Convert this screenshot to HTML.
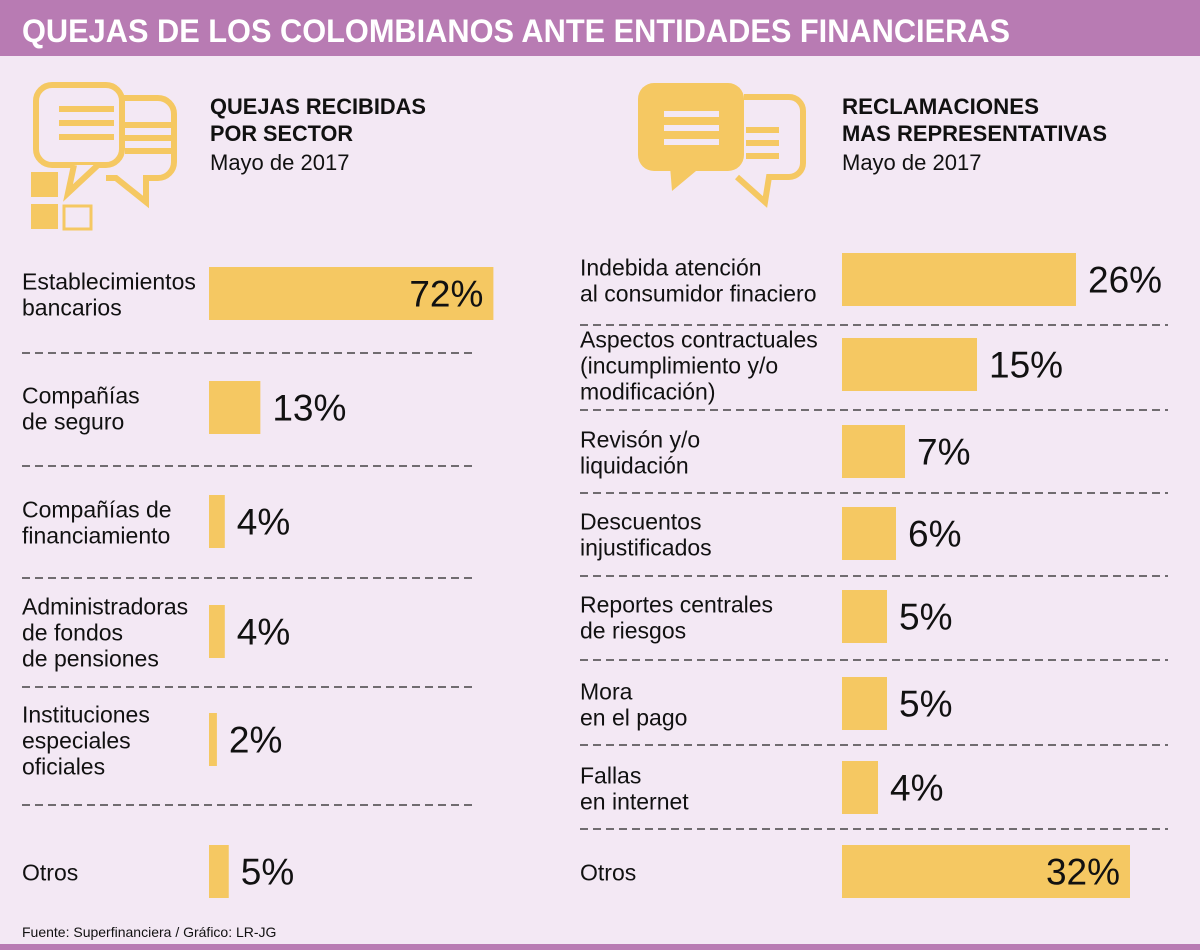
<!DOCTYPE html>
<html><head><meta charset="utf-8"><style>
html,body{margin:0;padding:0;background:#f3e8f4;}
svg{display:block;font-family:"Liberation Sans",sans-serif;}
</style></head><body>
<svg id="chart" width="1200" height="950" viewBox="0 0 1200 950" xmlns="http://www.w3.org/2000/svg">
<rect x="0" y="0" width="1200" height="950" fill="#f3e8f4"/>
<rect x="0" y="0" width="1200" height="56" fill="#b87bb3"/>
<text x="22" y="42" font-size="32" font-weight="bold" fill="#fff" textLength="988" lengthAdjust="spacingAndGlyphs">QUEJAS DE LOS COLOMBIANOS ANTE ENTIDADES FINANCIERAS</text>
<rect x="0" y="944" width="1200" height="6" fill="#b87bb3"/>
<text x="22" y="937" font-size="14" fill="#111">Fuente: Superfinanciera / Gráfico: LR-JG</text>

<g fill="none" stroke="#f5c862" stroke-width="6">
  <path d="M110 98 h48 a16 16 0 0 1 16 16 v48 a16 16 0 0 1 -16 16 h-12 l0 24 l-30 -24 h-10"/>
  <rect x="36" y="85" width="86" height="80" rx="16" fill="#f3e8f4"/>
  <path d="M74 165 l-6 28 l30 -28" fill="#f3e8f4"/>
  <rect x="64" y="206" width="27" height="23" stroke-width="3"/>
</g>
<g fill="#f5c862">
  <rect x="59" y="106" width="55" height="6"/><rect x="59" y="120" width="55" height="6"/><rect x="59" y="134" width="55" height="6"/>
  <rect x="125" y="122" width="49" height="6"/><rect x="125" y="135" width="49" height="6"/><rect x="125" y="148" width="49" height="6"/>
  <rect x="31" y="172" width="27" height="25"/><rect x="31" y="204" width="27" height="25"/>
</g>
<g>
  <path d="M744 97 h45 a14 14 0 0 1 14 14 v52 a14 14 0 0 1 -14 14 h-20 l-4 25 l-28 -25" fill="none" stroke="#f5c862" stroke-width="6"/>
  <rect x="638" y="83" width="106" height="88" rx="16" fill="#f5c862"/>
  <path d="M670 166 l2 25 l30 -25z" fill="#f5c862"/>
  <g fill="#f3e8f4"><rect x="664" y="111" width="55" height="6"/><rect x="664" y="125" width="55" height="6"/><rect x="664" y="139" width="55" height="6"/></g>
  <g fill="#f5c862"><rect x="746" y="127" width="33" height="6"/><rect x="746" y="140" width="33" height="6"/><rect x="746" y="153" width="33" height="6"/></g>
</g>

<g fill="#111">
  <text x="210" y="114" font-size="22" font-weight="bold" textLength="216" lengthAdjust="spacingAndGlyphs">QUEJAS RECIBIDAS</text>
  <text x="210" y="141" font-size="22" font-weight="bold" textLength="143" lengthAdjust="spacingAndGlyphs">POR SECTOR</text>
  <text x="210" y="170" font-size="22">Mayo de 2017</text>
</g>
<g fill="#111">
  <text x="842" y="114" font-size="22" font-weight="bold" textLength="197" lengthAdjust="spacingAndGlyphs">RECLAMACIONES</text>
  <text x="842" y="141" font-size="22" font-weight="bold" textLength="265" lengthAdjust="spacingAndGlyphs">MAS REPRESENTATIVAS</text>
  <text x="842" y="170" font-size="22">Mayo de 2017</text>
</g>
<g id="left-chart"></g>
<g id="right-chart"></g>
</svg>
<script>
const leftCategories = [["Establecimientos","bancarios"],["Compañías","de seguro"],["Compañías de","financiamiento"],["Administradoras","de fondos","de pensiones"],["Instituciones","especiales","oficiales"],["Otros"]];
const leftValues = [72,13,4,4,2,5];
const rightCategories = [["Indebida atención","al consumidor finaciero"],["Aspectos contractuales","(incumplimiento y/o","modificación)"],["Revisón y/o","liquidación"],["Descuentos","injustificados"],["Reportes centrales","de riesgos"],["Mora","en el  pago"],["Fallas","en internet"],["Otros"]];
const rightValues = [26,15,7,6,5,5,4,32];

// layout (row slot geometry, not data)
const leftRowTop = [267,381,495,605,713,845];
const leftDividerY = [353,466,578,687,805];
const rightRowTop = [253,338,425,507,590,677,761,845];
const rightDividerY = [325,410,493,576,660,745,829];

const NS="http://www.w3.org/2000/svg";
function mk(tag,attrs,parent){const e=document.createElementNS(NS,tag);for(const k in attrs)e.setAttribute(k,attrs[k]);parent.appendChild(e);return e;}

function drawChart(g, cats, vals, rowTop, divY, cfg){
  cats.forEach((lines,i)=>{
    const cy = rowTop[i] + 26.5;
    const w = vals[i]*cfg.scale;
    const bar = mk('rect',{x:cfg.barX,y:rowTop[i],width:w,height:53,fill:'#f5c862'},g);
    
    
    const first = cy + 9 - 13*(lines.length-1);
    const lab = mk('text',{x:cfg.labelX,y:first,'font-size':23,fill:'#111'},g);
    
    
    lines.forEach((l,j)=>{const t=mk('tspan',{x:cfg.labelX,y:first+26*j},lab);t.textContent=l;});
    const inside = w > 260;
    const val = mk('text',{x: inside ? cfg.barX+w-10 : cfg.barX+w+12, y:cy+13,'font-size':37,fill:'#111','text-anchor': inside?'end':'start'},g);
    val.textContent = vals[i]+'%';
    
    
  });
  divY.forEach(ly=>{
    const ln = mk('line',{x1:cfg.labelX,x2:cfg.lineEnd,y1:ly,y2:ly,stroke:'#222','stroke-width':1.2,'stroke-dasharray':'8 5'},g);
    
    
  });
}
drawChart(document.getElementById('left-chart'), leftCategories, leftValues, leftRowTop, leftDividerY,
  {barX:209, scale:3.95, labelX:22, lineEnd:474});
drawChart(document.getElementById('right-chart'), rightCategories, rightValues, rightRowTop, rightDividerY,
  {barX:842, scale:9.0, labelX:580, lineEnd:1168});
</script>
</body></html>
